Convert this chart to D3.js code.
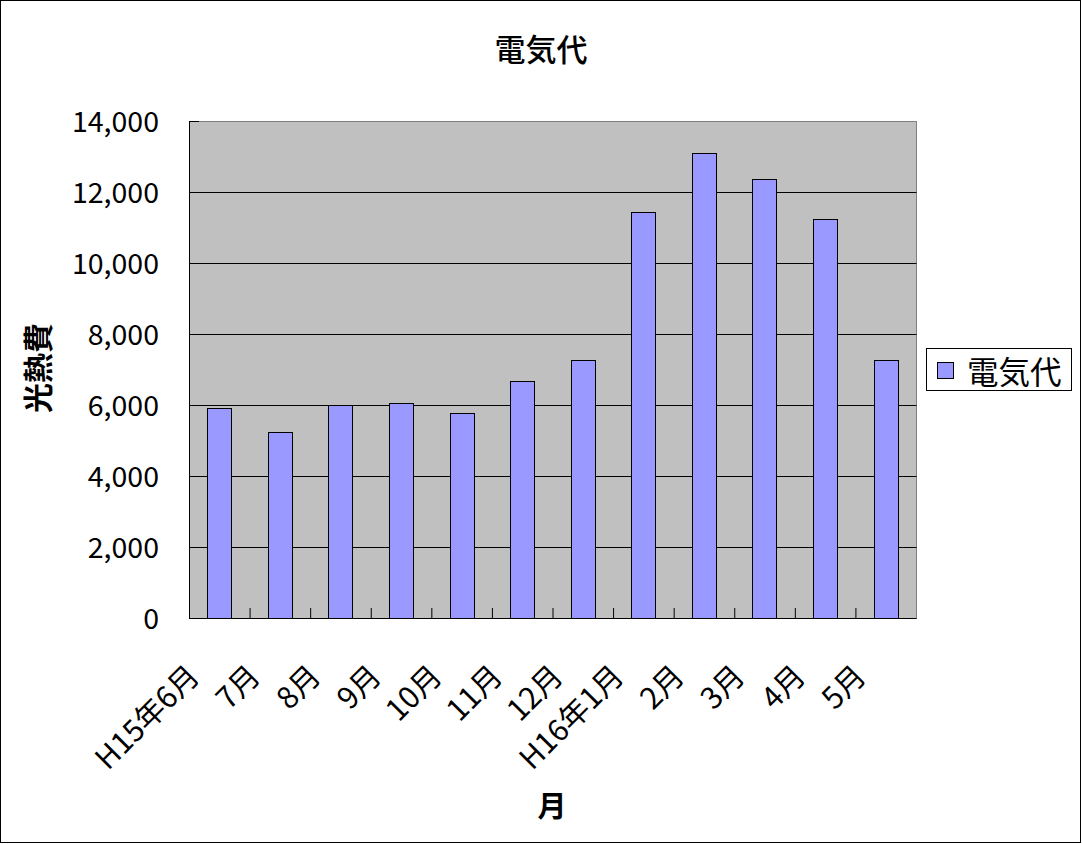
<!DOCTYPE html>
<html><head><meta charset="utf-8">
<script src="https://cdn.jsdelivr.net/npm/d3@7"></script>
<style>
html,body{margin:0;padding:0;background:#fff;}
svg{display:block;}
text{font-family:"Noto Sans CJK JP","Noto Sans",sans-serif;fill:#000;}
</style></head>
<body>
<svg id="c" width="1082" height="844"></svg>
<script>
const categories = ["H15年6月","7月","8月","9月","10月","11月","12月","H16年1月","2月","3月","4月","5月"];
const values = [5920, 5240, 6000, 6060, 5780, 6680, 7270, 11440, 13100, 12370, 11240, 7270];
const yTicks = [0, 2000, 4000, 6000, 8000, 10000, 12000, 14000];
const seriesName = "電気代";
const chartTitle = "電気代";
const xTitle = "月";
const yTitle = "光熱費";

const svg = d3.select("#c");
const L = 189, R = 916, T = 121, B = 618;

// outer border
svg.append("rect").attr("x",0.5).attr("y",0.5).attr("width",1080).attr("height",842)
  .attr("fill","#fff").attr("stroke","#000").attr("stroke-width",1);

const x = d3.scaleBand().domain(categories).range([L, R]).paddingInner(0.6).paddingOuter(0.3);
const y = d3.scaleLinear().domain([0, 14000]).range([B, T]);

// plot background
svg.append("rect").attr("x",L+0.5).attr("y",T+0.5).attr("width",R-L).attr("height",B-T)
  .attr("fill","#c0c0c0").attr("stroke","#808080").attr("stroke-width",1);

// gridlines
svg.append("g").selectAll("line").data(yTicks.filter(d=>d>0 && d<14000)).join("line")
  .attr("x1",L).attr("x2",R+0.5)
  .attr("y1",d=>Math.round(y(d))+0.5).attr("y2",d=>Math.round(y(d))+0.5)
  .attr("stroke","#000").attr("stroke-width",1);

// bars
svg.append("g").selectAll("rect").data(values).join("rect")
  .attr("x",(d,i)=>Math.round(x(categories[i]))+0.5)
  .attr("y",d=>Math.round(y(d))+0.5)
  .attr("width",Math.round(x.bandwidth()))
  .attr("height",d=>Math.round(y(0))-Math.round(y(d)))
  .attr("fill","#9999ff").attr("stroke","#000").attr("stroke-width",1);

// y axis
const yAxis = d3.axisLeft(y).tickValues(yTicks).tickFormat(d3.format(","))
  .tickSizeInner(-10).tickSizeOuter(0).tickPadding(30);
const gy = svg.append("g").attr("transform",`translate(${L},0)`).call(yAxis);
gy.selectAll("path,line").attr("stroke","#000");
gy.selectAll("text").style("font-size","28.5px").style("font-family","'Noto Sans CJK JP',sans-serif").attr("dy","0.36em");

// x axis (ticks at category boundaries)
const xi = d3.scaleLinear().domain([0, categories.length]).range([L, R]);
const xAxis = d3.axisBottom(xi).tickValues(d3.range(1, categories.length)).tickFormat("")
  .tickSizeInner(-10).tickSizeOuter(0);
const gx = svg.append("g").attr("transform",`translate(0,${B})`).call(xAxis);
gx.selectAll("path,line").attr("stroke","#000");

// x labels rotated
svg.append("g").selectAll("text").data(categories).join("text")
  .attr("transform",d=>`translate(${x(d)+x.bandwidth()/2-18},678) rotate(-45)`)
  .attr("text-anchor","end")
  .style("font-size","30px")
  .text(d=>d);

// title
svg.append("text").attr("x",541).attr("y",61).attr("text-anchor","middle")
  .style("font-size","31px").style("font-weight","500").text(chartTitle);

// axis titles
svg.append("text").attr("x",552).attr("y",817).attr("text-anchor","middle")
  .style("font-size","29px").style("font-weight","bold").text(xTitle);
svg.append("text").attr("transform","translate(49,368) rotate(-90)").attr("text-anchor","middle")
  .style("font-size","30px").style("font-weight","bold").text(yTitle);

// legend
const lg = svg.append("g");
lg.append("rect").attr("x",926.5).attr("y",348.5).attr("width",145).attr("height",42)
  .attr("fill","#fff").attr("stroke","#000");
lg.append("rect").attr("x",937.5).attr("y",362.5).attr("width",16).attr("height",16)
  .attr("fill","#9999ff").attr("stroke","#000");
lg.append("text").attr("x",967).attr("y",384).style("font-size","31.5px").text(seriesName);
</script>
</body></html>
